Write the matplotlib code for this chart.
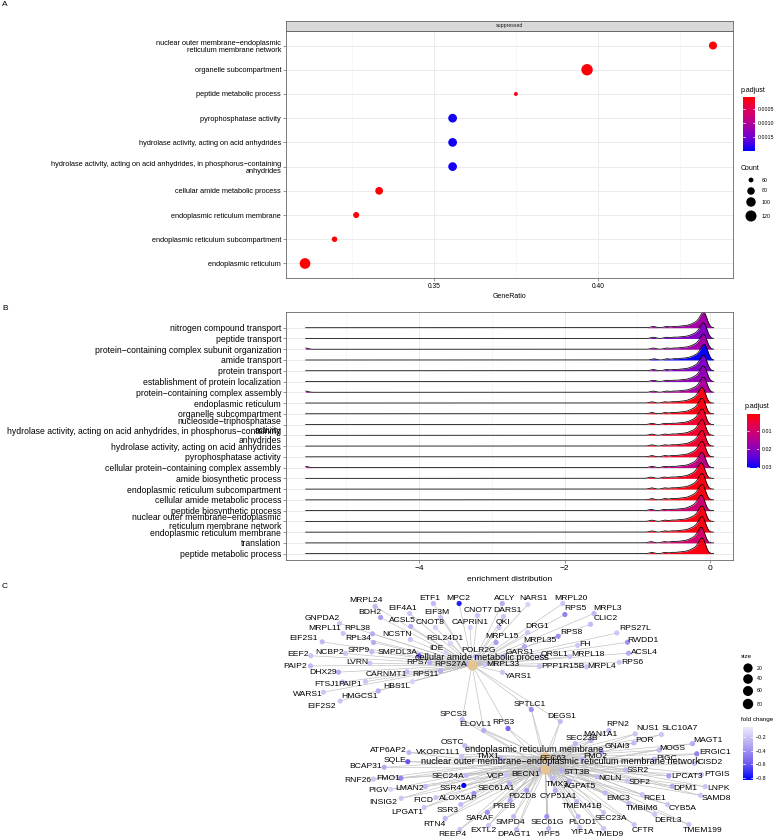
import numpy as np
import matplotlib
matplotlib.use("Agg")
import matplotlib.pyplot as plt
from matplotlib.colors import LinearSegmentedColormap, Normalize

plt.rcParams['font.family'] = ['Liberation Sans', 'DejaVu Sans']

# ---------------- panel A : dot plot ----------------
a_terms = ["nuclear outer membrane−endoplasmic\nreticulum membrane network",
           "organelle subcompartment",
           "peptide metabolic process",
           "pyrophosphatase activity",
           "hydrolase activity, acting on acid anhydrides",
           "hydrolase activity, acting on acid anhydrides, in phosphorus−containing\nanhydrides",
           "cellular amide metabolic process",
           "endoplasmic reticulum membrane",
           "endoplasmic reticulum subcompartment",
           "endoplasmic reticulum"]
a_ratio = [0.4351, 0.3967, 0.3750, 0.3557, 0.3557, 0.3557, 0.3333, 0.3263, 0.3197, 0.3107]
a_count = [85, 125, 55, 92, 92, 92, 82, 68, 64, 115]
a_padj = [0.00010, 0.00012, 0.00020, 0.00190, 0.00190, 0.00190, 0.00010, 0.00010, 0.00010, 0.00008]
count_legend = [60, 80, 100, 120]

# ---------------- panel B : ridge plot ----------------
b_terms = ["nitrogen compound transport", "peptide transport",
           "protein−containing complex subunit organization", "amide transport",
           "protein transport", "establishment of protein localization",
           "protein−containing complex assembly", "endoplasmic reticulum",
           "organelle subcompartment", "nucleoside−triphosphatase\nactivity",
           "hydrolase activity, acting on acid anhydrides, in phosphorus−containing\nanhydrides",
           "hydrolase activity, acting on acid anhydrides", "pyrophosphatase activity",
           "cellular protein−containing complex assembly", "amide biosynthetic process",
           "endoplasmic reticulum subcompartment", "cellular amide metabolic process",
           "peptide biosynthetic process",
           "nuclear outer membrane−endoplasmic\nreticulum membrane network",
           "endoplasmic reticulum membrane", "translation", "peptide metabolic process"]
b_padj = [0.017, 0.021, 0.017, 0.030, 0.021, 0.019, 0.016, 0.002, 0.002, 0.004, 0.004,
          0.004, 0.004, 0.013, 0.003, 0.002, 0.002, 0.011, 0.002, 0.002, 0.010, 0.002]
b_shift = [0.0, 0.0, 0.0, 0.01, 0.0, 0.0, 0.0, -0.02, -0.02, -0.02, -0.02,
           -0.02, -0.02, -0.02, -0.03, -0.02, -0.02, -0.03, -0.02, -0.02, -0.03, -0.02]
b_tail = [0, 0, 1, 0, 0, 0, 1, 0, 0, 0, 0, 0, 0, 1, 0, 0, 0, 0, 0, 0, 0, 0]
fc_min = -5.56
fc_core = [-0.78, -0.60, -0.50, -0.42, -0.36, -0.31, -0.27, -0.24, -0.22, -0.20, -0.18,
           -0.16, -0.15, -0.14, -0.13, -0.12, -0.11, -0.105, -0.10, -0.095, -0.09, -0.085,
           -0.08, -0.075, -0.07, -0.065, -0.06, -0.05, -0.04]

# ---------------- panel C : gene-concept network ----------------
hub_names = ["cellular amide metabolic process", "endoplasmic reticulum membrane",
             "nuclear outer membrane−endoplasmic reticulum membrane network"]
hub_x = [472, 545, 545]
hub_y = [665, 757, 769]
hub_lx = [482, 534, 560]
hub_ly = [657, 750, 762]

amide_genes = ["MRPL24", "EIF4A1", "ETF1", "MPC2", "EIF3M", "CNOT7", "ACLY", "DARS1", "NARS1",
               "MRPL20", "RPS5", "MRPL3", "BDH2", "ACSL5", "CNOT8", "CAPRIN1", "QKI", "CLIC2",
               "GNPDA2", "MRPL11", "RPL38", "NCSTN", "DRG1", "RPS8", "RPS27L", "EIF2S1", "RPL34",
               "RSL24D1", "MRPL15", "MRPL35", "FH", "RWDD1", "EEF2", "NCBP2", "SRP9", "SMPDL3A",
               "IDE", "POLR2G", "GARS1", "QRSL1", "MRPL18", "ACSL4", "PAIP2", "LVRN", "RPS7",
               "RPS27A", "MRPL33", "PPP1R15B", "MRPL4", "RPS6", "DHX29", "CARNMT1", "RPS11",
               "YARS1", "FTSJ1", "PAIP1", "HBS1L", "WARS1", "HMGCS1", "EIF2S2"]
amide_x = [366, 403, 430, 458, 437, 478, 505, 507, 533, 571, 575, 607, 370, 402, 430, 470, 503, 606,
           322, 325, 357, 397, 537, 571, 635, 304, 358, 445, 502, 540, 585, 643, 298, 330, 359, 398,
           436, 478, 520, 555, 588, 644, 295, 357, 417, 451, 503, 563, 602, 632, 323, 386, 425,
           518, 327, 350, 397, 308, 360, 322]
amide_y = [601, 608, 598, 598, 612, 610, 598, 611, 599, 598, 609, 608, 612, 621, 622, 622, 622, 619,
           618, 629, 629, 634, 627, 632, 629, 639, 639, 638, 637, 641, 644, 640, 655, 652, 650, 652,
           648, 651, 652, 655, 655, 652, 666, 663, 662, 664, 664, 667, 667, 662, 673, 674, 674,
           676, 684, 684, 686, 695, 696, 706]
amide_fc = [-0.25, -0.20, -0.25, -0.75, -0.20, -0.20, -0.30, -0.20, -0.15, -0.20, -0.45, -0.25,
            -0.35, -0.30, -0.15, -0.15, -0.20, -0.25, -0.20, -0.20, -0.30, -0.20, -0.20, -0.40,
            -0.20, -0.25, -0.30, -0.15, -0.35, -0.30, -0.20, -0.40, -0.20, -0.20, -0.25, -0.60,
            -0.15, -0.30, -0.25, -0.20, -0.20, -0.30, -0.25, -0.20, -0.30, -0.30, -0.20, -0.20,
            -0.20, -0.20, -0.30, -0.25, -0.30, -0.20, -0.20, -0.20, -0.15, -0.20, -0.30, -0.20]

shared_genes = ["SPCS3", "ELOVL1", "RPS3", "SPTLC1", "DEGS1"]
shared_x = [453, 475, 503, 530, 562]
shared_y = [714, 725, 723, 704, 716]
shared_fc = [-0.25, -0.30, -0.55, -0.40, -0.25]

er_genes = ["OSTC", "ATP6AP2", "VKORC1L1", "SQLE", "BCAP31", "RNF26", "FMO1", "SEC24A", "VCP",
            "BECN1", "TMX3", "PIGV", "LMAN2", "SSR4", "SEC61A1", "PDZD8", "CYP51A1", "INSIG2",
            "FICD", "ALOX5AP", "PREB", "SSR3", "LPGAT1", "RTN4", "SARAF", "SMPD4", "SEC61G",
            "PLOD1", "REEP4", "EXTL2", "DPAGT1", "YIPF5", "YIF1A", "AGPAT5", "TMEM41B", "SEC23A",
            "TMED9", "CFTR", "DERL3", "TMEM199", "CYB5A", "TMBIM6", "RCE1", "EMC3", "NCLN",
            "SDF2", "DPM1", "LNPK", "SAMD8", "STT3B", "SSR2", "LPCAT3", "PTGIS", "CISD2", "PIGC",
            "ERGIC1", "MAGT1", "MOGS", "SLC10A7", "NUS1", "RPN2", "POR", "MAN1A1", "GNAI3",
            "SEC23B", "FMO2", "SEC63", "TMX1"]
er_x = [452, 388, 438, 395, 366, 358, 388, 448, 496, 526, 557, 378, 410, 451, 496, 522, 558, 383,
        423, 458, 504, 448, 407, 434, 480, 510, 547, 582, 452, 483, 514, 549, 583, 580, 582, 611,
        609, 643, 668, 703, 683, 642, 655, 618, 610, 640, 685, 718, 716, 577, 638, 687, 717, 710,
        667, 715, 708, 672, 680, 648, 618, 644, 600, 617, 582, 595, 553, 488]
er_y = [742, 750, 753, 761, 767, 780, 779, 777, 777, 774, 784, 791, 789, 788, 789, 796, 796, 802,
        801, 799, 806, 810, 813, 824, 818, 822, 822, 822, 835, 831, 835, 834, 833, 787, 807, 818,
        834, 830, 820, 830, 809, 809, 798, 798, 779, 783, 788, 788, 798, 772, 770, 777, 775, 763,
        758, 752, 741, 748, 729, 729, 725, 740, 735, 747, 738, 756, 758, 756]
er_fc = [-0.25, -0.25, -0.20, -0.60, -0.30, -0.20, -0.45, -0.25, -0.20, -0.40, -0.25, -0.15, -0.25,
         -0.85, -0.30, -0.35, -0.30, -0.20, -0.20, -0.40, -0.30, -0.25, -0.20, -0.25, -0.40, -0.25,
         -0.40, -0.25, -0.20, -0.20, -0.25, -0.25, -0.20, -0.30, -0.25, -0.20, -0.20, -0.20, -0.20,
         -0.20, -0.20, -0.25, -0.20, -0.25, -0.25, -0.20, -0.30, -0.20, -0.20, -0.30, -0.25, -0.35,
         -0.20, -0.20, -0.25, -0.45, -0.30, -0.25, -0.20, -0.20, -0.25, -0.25, -0.30, -0.35, -0.25,
         -0.25, -0.25, -0.30]
size_legend = [20, 40, 60, 80]

# ---------------- figure ----------------
W, H = 780, 839
fig = plt.figure(figsize=(W / 100, H / 100), dpi=100)


def px_box(x0, y0, x1, y1):
    return [x0 / W, 1 - y1 / H, (x1 - x0) / W, (y1 - y0) / H]


redblue = LinearSegmentedColormap.from_list(
    "rb", ["#FF0000", "#E6004F", "#C4007F", "#9600B4", "#6000DC", "#0000FF"])
purples = LinearSegmentedColormap.from_list(
    "pu", ["#0000FF", "#7462EE", "#B5A9F3", "#EEEBFB"])
border = "#666666"


def style_panel(ax):
    for s in ax.spines.values():
        s.set_color(border)
        s.set_linewidth(0.6)
    ax.tick_params(which='major', length=2, width=0.4, color='#444444', pad=1.5)
    ax.tick_params(which='minor', length=0)
    ax.set_axisbelow(True)


def count_to_s(c):
    return 8 + (np.asarray(c, float) - 55) * 0.85


def colorbar(box, cmap, vmin, vmax, ticks, labels, reverse):
    cax = fig.add_axes(px_box(*box))
    vals = np.linspace(vmin, vmax, 256)[:, None]
    cax.imshow(vals, aspect='auto', cmap=cmap, vmin=vmin, vmax=vmax, origin='lower',
               extent=[0, 1, vmin, vmax])
    cax.set_xlim(0, 1)
    cax.set_ylim((vmax, vmin) if reverse else (vmin, vmax))
    cax.set_xticks([])
    cax.yaxis.tick_right()
    cax.set_yticks(ticks)
    cax.set_yticklabels(labels, fontsize=3.8)
    cax.tick_params(axis='y', length=0, pad=2)
    for t in ticks:
        cax.plot([0, 0.2], [t, t], color='white', lw=0.5)
        cax.plot([0.8, 1], [t, t], color='white', lw=0.5)
    for s in cax.spines.values():
        s.set_visible(False)


# ---- A
axA = fig.add_axes(px_box(286, 31, 733, 278))
ya = np.arange(len(a_terms))[::-1] + 1
normA = Normalize(0.00007, 0.00199)
axA.scatter(a_ratio, ya, s=count_to_s(a_count), c=a_padj, cmap=redblue, norm=normA,
            linewidths=0, zorder=3)
axA.set_xlim(0.3049, 0.4412)
axA.set_ylim(0.4, 10.6)
axA.set_yticks(ya)
axA.set_yticklabels(a_terms, fontsize=5.3, linespacing=1.1)
axA.set_xticks([0.35, 0.40])
axA.set_xticklabels(["0.35", "0.40"], fontsize=4.8)
axA.set_xticks([0.325, 0.375, 0.425], minor=True)
axA.grid(which='major', color='#EBEBEB', lw=0.7)
axA.grid(which='minor', axis='x', color='#F2F2F2', lw=0.4)
axA.set_xlabel("GeneRatio", fontsize=5, labelpad=2)
style_panel(axA)

strip = fig.add_axes(px_box(286, 21, 733, 31))
strip.set_facecolor('#D9D9D9')
strip.set_xticks([])
strip.set_yticks([])
for s in strip.spines.values():
    s.set_color(border)
    s.set_linewidth(0.6)
strip.text(0.5, 0.5, "suppressed", fontsize=3.8, ha='center', va='center',
           transform=strip.transAxes, color='#1A1A1A')

colorbar((743, 97, 755, 151), redblue, 0.00007, 0.00199, [0.0005, 0.0010, 0.0015],
         ["0.0005", "0.0010", "0.0015"], True)

# ---- B
axB = fig.add_axes(px_box(286, 312, 733, 560))
grid = np.linspace(fc_min, 0.05, 1500)
bw = 0.035
dens = []
for i in range(len(b_terms)):
    vals = np.array(fc_core) + b_shift[i]
    if b_tail[i]:
        vals = np.append(vals, fc_min)
    d = np.exp(-0.5 * ((grid[None, :] - vals[:, None]) / bw) ** 2).sum(0)
    dens.append(d / (len(vals) * bw * np.sqrt(2 * np.pi)))
scale = 1.45 / max(d.max() for d in dens)
normB = Normalize(0.00056, 0.0306)
nb = len(b_terms)
for i in range(nb):
    y0 = nb - i
    top = y0 + dens[i] * scale
    axB.fill_between(grid, y0, top, color=redblue(normB(b_padj[i])), lw=0, zorder=2 + i)
    axB.plot(grid, top, color='black', lw=0.55, zorder=2.5 + i)
axB.set_xlim(-5.83, 0.316)
axB.set_ylim(0.41, 23.46)
axB.set_yticks(np.arange(nb, 0, -1))
axB.set_yticklabels(b_terms, fontsize=6.2, linespacing=1.0)
axB.set_xticks([-4, -2, 0])
axB.set_xticklabels(["−4", "−2", "0"], fontsize=6)
axB.set_xticks([-5, -3, -1], minor=True)
axB.grid(which='major', color='#EBEBEB', lw=0.7)
axB.grid(which='minor', axis='x', color='#F2F2F2', lw=0.4)
axB.set_xlabel("enrichment distribution", fontsize=6, labelpad=3)
style_panel(axB)

colorbar((747, 414, 759, 468), redblue, 0.00056, 0.0306, [0.01, 0.02, 0.03],
         ["0.01", "0.02", "0.03"], True)

# ---- overlay for panel C and legends (pixel units)
ov = fig.add_axes([0, 0, 1, 1])
ov.set_xlim(0, W)
ov.set_ylim(H, 0)
ov.axis('off')

for lab, (x, y) in zip("ABC", [(2, 5), (2, 309), (2, 587)]):
    ov.text(x, y, lab, fontsize=6, ha='left', va='center')

# legends of A
ov.text(741, 90, "p.adjust", fontsize=5, ha='left', va='center')
ov.text(741, 168, "Count", fontsize=5, ha='left', va='center')
ov.scatter([751] * 4, [180, 191, 202, 216], s=count_to_s(count_legend), c='black', linewidths=0)
for yy, c in zip([180, 191, 202, 216], count_legend):
    ov.text(762, yy, str(c), fontsize=3.8, ha='left', va='center')
# legend of B
ov.text(745, 407, "p.adjust", fontsize=5, ha='left', va='center')


def node_pos(name, lx, ly, hx, hy):
    dx, dy = hx - lx, hy - ly
    d = np.hypot(dx, dy)
    ux, uy = dx / d, dy / d
    hw = len(name) * 2.7 + 2
    t = min(hw / max(abs(ux), 1e-6), 5.5 / max(abs(uy), 1e-6))
    t = min(t, 0.8 * d)
    return lx + ux * t, ly + uy * t


normC = Normalize(-0.83, -0.05)
edge_kw = dict(color='#BDBDBD', lw=0.45, zorder=1)
nodes = []
for names, xs, ys, fcs, hubs in [(amide_genes, amide_x, amide_y, amide_fc, [0]),
                                 (shared_genes, shared_x, shared_y, shared_fc, [0, 1, 2]),
                                 (er_genes, er_x, er_y, er_fc, [1, 2])]:
    for n, lx, ly, fc in zip(names, xs, ys, fcs):
        h = hubs[-1]
        nx, ny = node_pos(n, lx, ly, hub_x[h], hub_y[h])
        for hh in hubs:
            ov.plot([nx, hub_x[hh]], [ny, hub_y[hh]], **edge_kw)
        nodes.append((nx, ny, fc))
        ov.text(lx, ly, n, fontsize=6.1, ha='center', va='center', zorder=4)
nodes = np.array(nodes)
ov.scatter(nodes[:, 0], nodes[:, 1], s=14, c=nodes[:, 2], cmap=purples, norm=normC,
           linewidths=0, zorder=2)
ov.scatter(hub_x, hub_y, s=55, c='#E5C494', linewidths=0, zorder=3)
for n, x, y in zip(hub_names, hub_lx, hub_ly):
    ov.text(x, y, n, fontsize=6.6, ha='center', va='center', zorder=5)

# legends of C
ov.text(741, 656, "size", fontsize=4.5, ha='left', va='center')
ov.scatter([748] * 4, [668, 679, 691, 704], s=[44, 48, 52, 56], c='black', linewidths=0)
for yy, c in zip([668, 679, 691, 704], size_legend):
    ov.text(757, yy, str(c), fontsize=3.8, ha='left', va='center')
ov.text(741, 720, "fold change", fontsize=4.5, ha='left', va='center')
colorbar((743, 727, 753, 780), purples, -0.83, -0.05, [-0.2, -0.4, -0.6, -0.8],
         ["−0.2", "−0.4", "−0.6", "−0.8"], False)

fig.savefig("out.png", dpi=100)
